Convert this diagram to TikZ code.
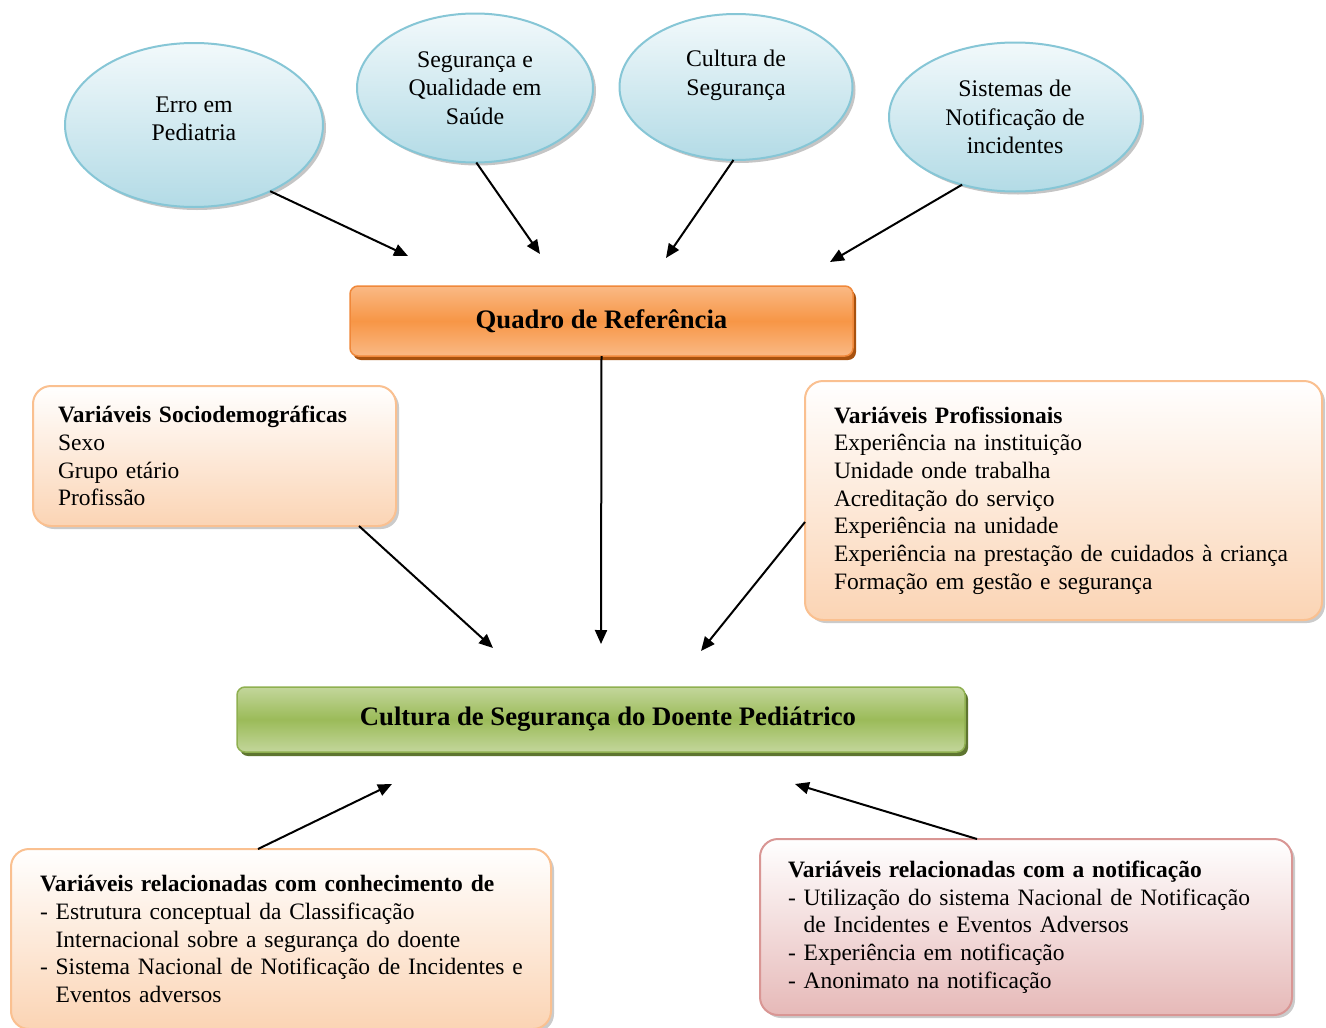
\documentclass[tikz,border=0pt]{standalone}
\usepackage{fontspec}
\setmainfont{Liberation Serif}
\usetikzlibrary{shapes.geometric,shadows,arrows.meta}
\definecolor{ellborder}{HTML}{86C6D6}
\definecolor{elltop}{HTML}{F2F9FB}
\definecolor{ellbot}{HTML}{B3DBE6}
\definecolor{orgmid}{HTML}{F79646}
\definecolor{orglight}{HTML}{FAB985}
\definecolor{orgdark}{HTML}{A8520F}
\definecolor{orgborder}{HTML}{F0883A}
\definecolor{grnmid}{HTML}{9BBB59}
\definecolor{grnlight}{HTML}{C3D69B}
\definecolor{grndark}{HTML}{5E7530}
\definecolor{grnborder}{HTML}{8FB050}
\definecolor{peachbot}{HTML}{FBD4B4}
\definecolor{peachborder}{HTML}{FAC090}
\definecolor{rosebot}{HTML}{E6B9B8}
\definecolor{roseborder}{HTML}{D99694}
\begin{document}
\begin{tikzpicture}[x=1pt,y=-1pt,
  bubble/.style={ellipse, draw=ellborder, line width=2pt, top color=elltop, bottom color=ellbot,
    drop shadow={shadow xshift=3pt,shadow yshift=-3pt,fill=black!45,opacity=0.5},
    align=center, inner sep=0pt, outer sep=0pt, font=\fontsize{23.8}{28.5}\selectfont},
  varbox/.style={rectangle, rounded corners=18pt, line width=2pt, top color=white, anchor=north west,
    drop shadow={shadow xshift=3pt,shadow yshift=-3pt,fill=black!40,opacity=0.5},
    align=left, inner ysep=0pt, outer sep=0pt, font=\fontsize{23.5}{27.7}\selectfont},
  peach/.style={varbox, draw=peachborder, bottom color=peachbot},
  rose/.style={varbox, draw=roseborder, bottom color=rosebot},
  titlebox/.style={rectangle, rounded corners=8pt, line width=1.5pt, inner sep=0pt, outer sep=0pt,
    font=\fontsize{26.7}{30}\selectfont\bfseries},
  arr/.style={line width=2pt, -{Triangle[length=14pt,width=12pt]}}
]
\useasboundingbox (0,0) rectangle (1326,1028);
\fill[white] (0,0) rectangle (1326,1028);

% bubbles
\node[bubble, minimum width=258pt, minimum height=164pt] (e1) at (194,125) {Erro em\\Pediatria\\[-16pt]\mbox{}};
\node[bubble, minimum width=236pt, minimum height=149pt] (e2) at (475,88) {Segurança e\\Qualidade em\\Saúde};
\node[bubble, minimum width=233pt, minimum height=146pt] (e3) at (736,87) {Cultura de\\Segurança\\\mbox{}};
\node[bubble, minimum width=252pt, minimum height=149pt] (e4) at (1015,117) {Sistemas de\\Notificação de\\incidentes};

% title boxes
\node[titlebox, draw=orgborder, top color=orglight, bottom color=orglight, middle color=orgmid,
  drop shadow={shadow xshift=3pt,shadow yshift=-4pt,fill=orgdark,opacity=1},
  minimum width=503pt, minimum height=70pt] (q) at (601.5,321) {Quadro de Referência};
\node[titlebox, draw=grnborder, top color=grnlight, bottom color=grnlight, middle color=grnmid,
  drop shadow={shadow xshift=3pt,shadow yshift=-4pt,fill=grndark,opacity=1},
  minimum width=728pt, minimum height=65pt] (g) at (601,719.5) {\hspace*{14pt}Cultura de Segurança do Doente Pediátrico};

% variable boxes
\node[peach, inner xsep=25pt, text width=313pt, minimum height=140pt] (s) at (33,386)
  {\textbf{Variáveis Sociodemográficas}\\Sexo\\Grupo etário\\Profissão};
\node[peach, inner xsep=29pt, text width=459pt, minimum height=239pt] (p) at (805,381)
  {\textbf{Variáveis Profissionais}\\Experiência na instituição\\Unidade onde trabalha\\Acreditação do serviço\\Experiência na unidade\\\mbox{Experiência na prestação de cuidados à criança}\\Formação em gestão e segurança};
\node[peach, inner xsep=29pt, text width=482pt, minimum height=180pt] (k) at (11,849)
  {\textbf{Variáveis relacionadas com conhecimento de}\\- Estrutura conceptual da Classificação\\\hphantom{- }Internacional sobre a segurança do doente\\\mbox{- Sistema Nacional de Notificação de Incidentes e}\\\hphantom{- }Eventos adversos};
\node[rose, inner xsep=28pt, text width=476pt, minimum height=176pt] (n) at (760,839)
  {\textbf{Variáveis relacionadas com a notificação}\\\mbox{- Utilização do sistema Nacional de Notificação}\\\hphantom{- }de Incidentes e Eventos Adversos\\- Experiência em notificação\\- Anonimato na notificação};

% arrow targets
\coordinate (a1) at (408,256);
\coordinate (a2) at (540,254);
\coordinate (a3) at (666,258);
\coordinate (a4) at (830,262);
\coordinate (a5) at (601,644);
\coordinate (a6) at (493,648);
\coordinate (a7) at (701,651);
\coordinate (a8) at (392,784);
\coordinate (a9) at (795,784);

\draw[arr] (e1.-41) -- (a1);
\draw[arr] (e2.-89) -- (a2);
\draw[arr] (e3.-92) -- (a3);
\draw[arr] (e4.-128) -- (a4);
\draw[arr] (q.south) -- (a5);
\draw[arr] ([xshift=-37pt]s.south east) -- (a6);
\draw[arr] ([yshift=-21.5pt]p.west) -- (a7);
\draw[arr] ([xshift=-23pt]k.north) -- (a8);
\draw[arr] ([xshift=-49pt]n.north) -- (a9);
\end{tikzpicture}
\end{document}
